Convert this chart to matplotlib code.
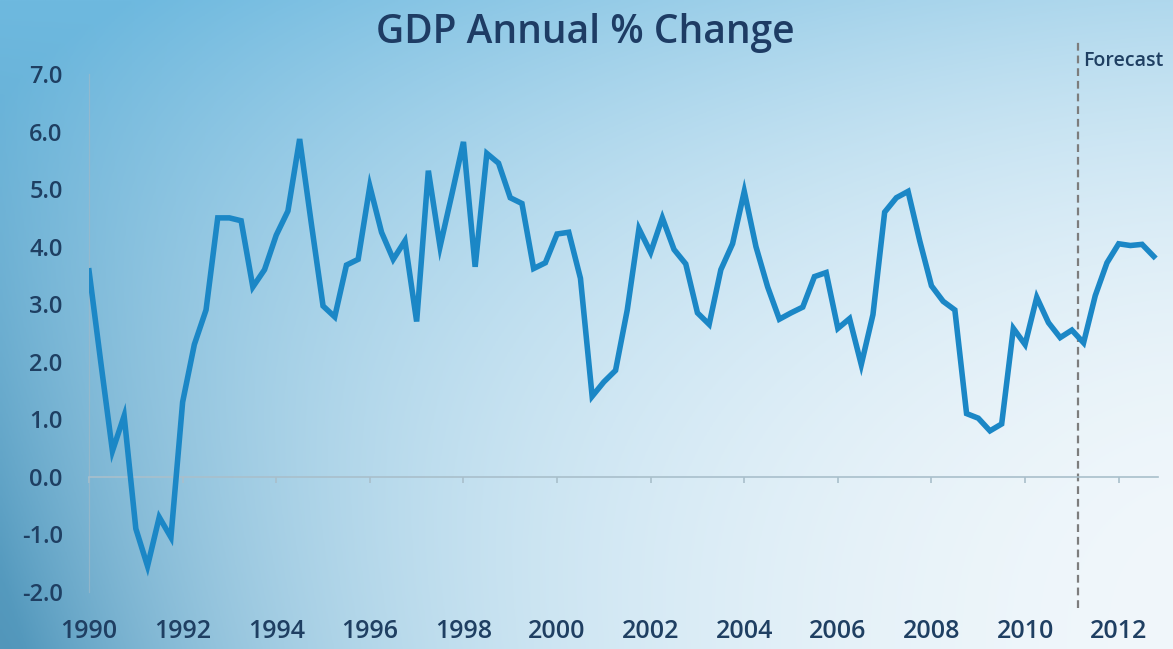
import numpy as np
import matplotlib
matplotlib.use("Agg")
import matplotlib.pyplot as plt

# quarterly GDP annual % change, 1990 Q1 .. 2012 Q4
start_year = 1990
gdp_change = [3.58, 2.0, 0.45, 1.06, -0.9, -1.55, -0.7, -1.05,
              1.3, 2.3, 2.9, 4.5, 4.5, 4.45, 3.3, 3.6,
              4.2, 4.62, 5.87, 4.4, 2.97, 2.78, 3.68, 3.78,
              5.05, 4.25, 3.78, 4.1, 2.7, 5.32, 4.0, 4.9,
              5.82, 3.65, 5.62, 5.45, 4.85, 4.75, 3.62, 3.72,
              4.22, 4.25, 3.45, 1.4, 1.65, 1.85, 2.9, 4.31,
              3.9, 4.5, 3.95, 3.7, 2.85, 2.65, 3.6, 4.05,
              4.96, 4.0, 3.3, 2.74, 2.85, 2.95, 3.48, 3.55,
              2.58, 2.75, 1.95, 2.82, 4.6, 4.85, 4.96, 4.1,
              3.32, 3.05, 2.9, 1.1, 1.02, 0.8, 0.92, 2.58,
              2.3, 3.12, 2.68, 2.42, 2.55, 2.33, 3.15, 3.72,
              4.05, 4.02, 4.04, 3.83]
years = start_year + np.arange(len(gdp_change)) / 4.0
forecast_start = 2011.13
x_ticks = [1990, 1992, 1994, 1996, 1998, 2000, 2002, 2004, 2006, 2008, 2010, 2012]
y_ticks = [-2.0, -1.0, 0.0, 1.0, 2.0, 3.0, 4.0, 5.0, 6.0, 7.0]

plt.rcParams['font.family'] = ['Open Sans', 'DejaVu Sans']
text_col = '#1f3f62'

fig = plt.figure(figsize=(11.73, 6.49), dpi=100)

# background gradient: blue at top/left, almost white low in the middle/right
bg = fig.add_axes([0, 0, 1, 1], zorder=0)
bg.axis('off')
u = np.linspace(0, 1, 400)[None, :]
v = np.linspace(0, 1, 240)[:, None]
a = 0.6 * (1 - u) ** 1.5 + 0.5 * (1 - v) ** 2.5 + 0.45 * (1 - u) ** 4 * v
a = np.clip(a, 0, 1)[..., None]
white = np.array([241, 247, 251]) / 255
blue = np.array([110, 185, 223]) / 255
dark = np.array([82, 150, 186]) / 255
w = np.clip(v * (1 - u) ** 3, 0, 1)[..., None]
base = blue + (dark - blue) * w
img = white + (base - white) * a
bg.imshow(np.clip(img, 0, 1), aspect='auto', extent=[0, 1, 0, 1], origin='upper')
bg.set_xlim(0, 1)
bg.set_ylim(0, 1)

ax = fig.add_axes([0.0759, 0.0878, 0.9113, 0.7982], zorder=1)
ax.patch.set_alpha(0)

ax.plot(years, gdp_change, color='#1b87c6', lw=4.0, solid_joinstyle='miter', zorder=3)

ax.axvline(forecast_start, ymin=-0.03, ymax=1.062, clip_on=False,
           color='#7d7d7d', lw=1.6, dashes=(3.5, 2.2), zorder=2)
ax.text(forecast_start + 0.12, 7.22, 'Forecast', fontsize=14, fontweight='semibold',
        color=text_col, ha='left', va='center')

ax.set_xlim(1990, 2012.84)
ax.set_ylim(-2.0, 7.0)
ax.set_xticks(x_ticks)
ax.set_yticks(y_ticks)
ax.set_yticklabels(['%.1f' % t for t in y_ticks])

for s in ['top', 'right']:
    ax.spines[s].set_visible(False)
ax.spines['bottom'].set_position(('data', 0))
ax.spines['bottom'].set_color('#a9bfcb')
ax.spines['bottom'].set_linewidth(1.2)
ax.spines['left'].set_color('#9fb9c8')
ax.spines['left'].set_linewidth(0.9)
ax.spines['left'].set_alpha(0.7)

ax.tick_params(axis='x', length=4, width=1.2, color='#a9bfcb', pad=98,
               labelsize=18, labelcolor=text_col)
ax.tick_params(axis='y', length=0, pad=19, labelsize=17, labelcolor=text_col)
for lab in ax.get_xticklabels() + ax.get_yticklabels():
    lab.set_fontweight('semibold')

fig.text(0.499, 0.949, 'GDP Annual % Change', ha='center', va='center',
         fontsize=28, fontweight='semibold', color='#1e3c64')

fig.savefig('out.png', dpi=100)
